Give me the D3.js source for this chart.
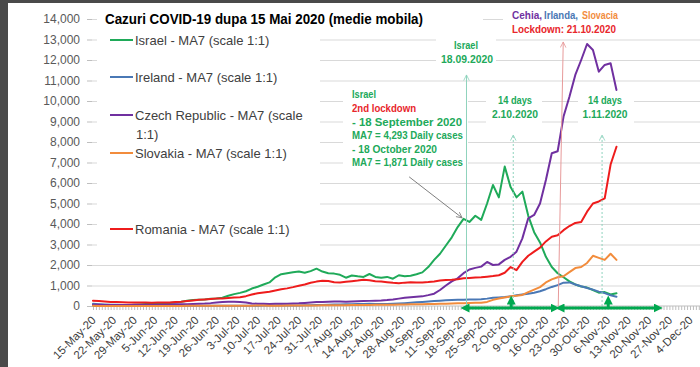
<!DOCTYPE html>
<html>
<head>
<meta charset="utf-8">
<script src="https://cdn.jsdelivr.net/npm/d3@7"></script>
<style>
body { margin: 0; background: #fff; }
svg { display: block; font-family: "Liberation Sans", Arial, sans-serif; }
.grid line { stroke: #d9d9d9; }
.grid path { display: none; }
.axis path { display: none; }
.axis line { stroke: #bfbfbf; }
.axis text { fill: #595959; font-size: 12px; }
.xaxis text { fill: #404040; font-size: 11.5px; }
.series { fill: none; stroke-width: 2; stroke-linejoin: round; stroke-linecap: round; }
.legend text { fill: #404040; font-size: 13px; }
.note { font-weight: bold; font-size: 11px; }
</style>
</head>
<body>
<svg id="chart" width="700" height="367"></svg>
<script>
var WIDTH = 700;
var HEIGHT = 367;

// first day of the data, every value is 2 days apart
var START = new Date(2020, 4, 15);
var STEP = 2;
var AXIS_END = new Date(2020, 11, 4);

// MA7 daily cases (15 May .. 9 Nov 2020)
var israel = [20,18,17,18,25,30,40,55,75,95,
	110,120,135,150,175,210,260,290,310,320,
	350,370,400,500,580,640,720,850,940,1050,
	1150,1400,1550,1600,1650,1680,1620,1700,1820,1680,
	1600,1580,1520,1380,1490,1450,1420,1560,1420,1380,
	1420,1330,1500,1450,1480,1550,1640,1900,2250,2550,
	2950,3350,3850,4250,4100,4400,4200,5000,5900,5300,
	6800,5800,5300,5580,4400,3600,3100,2400,1900,1600,
	1400,1200,1050,950,900,780,650,680,560,620];

var ireland = [110,90,75,65,55,50,45,40,35,30,
	25,20,18,16,14,12,12,11,11,12,
	12,14,15,15,14,14,15,16,18,20,
	20,22,22,25,28,30,35,40,45,50,
	60,70,75,80,85,95,100,110,100,95,
	100,110,125,140,160,180,200,220,240,260,
	280,290,300,310,320,320,330,360,400,420,
	440,470,520,560,600,650,720,820,930,1020,
	1140,1150,1050,960,880,800,700,630,520,450];

var czech = [60,55,50,48,45,45,50,55,55,60,
	60,65,70,75,80,85,90,100,110,120,
	140,170,200,210,210,200,170,120,110,105,
	100,110,110,115,120,130,150,170,190,200,
	210,220,220,210,220,230,240,250,260,270,
	290,320,360,400,430,450,470,530,600,780,
	1000,1200,1350,1600,1780,1860,1920,2150,2000,2030,
	2250,2400,2650,3300,4280,4440,5000,6150,7450,7550,
	9240,10210,11270,12000,12780,12490,11430,11760,11840,10540];

var slovakia = [8,6,5,5,4,4,3,3,3,4,
	5,6,5,5,5,6,8,10,12,14,
	15,16,14,12,12,14,16,18,20,22,
	15,16,18,20,22,24,26,28,30,32,
	35,38,40,42,45,48,50,52,55,58,
	60,65,70,75,80,85,90,95,100,105,
	110,120,130,140,150,155,160,200,300,370,
	420,470,500,540,680,800,920,1150,1300,1400,
	1450,1650,1850,1900,2100,2450,2350,2250,2550,2250];

var romania = [260,240,220,200,190,180,175,170,165,165,
	160,165,170,175,190,210,240,270,300,320,
	340,360,370,390,410,430,480,560,620,660,
	700,760,820,860,920,990,1050,1130,1190,1230,
	1220,1160,1150,1180,1210,1240,1280,1260,1210,1190,
	1160,1130,1110,1140,1160,1150,1150,1170,1200,1240,
	1270,1280,1300,1350,1370,1390,1400,1430,1460,1500,
	1620,1900,1750,2150,2450,2650,2850,3150,3380,3450,
	3700,3900,4050,4100,4600,5000,5100,5250,6900,7770];

var seriesNames = ["Israel - MA7 (scale 1:1)", "Ireland - MA7 (scale 1:1)",
	"Czech Republic - MA7 (scale", "Slovakia - MA7 (scale 1:1)", "Romania - MA7 (scale 1:1)"];
var seriesColors = ["#1faa59", "#4a78b5", "#7030a0", "#f28c3c", "#ee1c1c"];
var seriesData = [israel, ireland, czech, slovakia, romania];

var yTicks = d3.range(0, 14001, 1000);

// annotation anchors, in days after START and case values
var israelArrow = {day: 127, from: 0, to: 11270};
var redArrow = {day0: 158.2, day1: 159.9, from: 0, to: 12880};
var dottedArrows = [{day: 142.9, to: 8340}, {day: 173.1, to: 8340}];
var grayArrow = {day0: 107.5, v0: 6300, day1: 125.5, v1: 4300};
var spans = [[126.5, 157.1], [158.8, 192.2]];
var upArrows = [142.2, 175.2];

var svg = d3.select("#chart");

var x = d3.scaleTime().domain([START, AXIS_END]).range([93, 690]);
var y = d3.scaleLinear().domain([0, 14000]).range([306, 19]);

function dayToDate(d)
{
	return new Date(START.getTime() + d * 86400000);
}

// frame
svg.append("rect").attr("x", 0).attr("y", 0).attr("width", WIDTH).attr("height", 3).attr("fill", "#4a4a4a");
svg.append("rect").attr("x", 0).attr("y", 0).attr("width", 8).attr("height", HEIGHT).attr("fill", "#4a4a4a");

// gridlines
svg.append("g")
	.attr("class", "grid")
	.attr("transform", "translate(92,0)")
	.call(d3.axisLeft(y).tickValues(yTicks.slice(1)).tickSize(-(WIDTH - 92)).tickFormat(""));

// white boxes under title, legend and notes
var boxes = [[97, 5, 386, 24], [97, 28, 223, 224], [503, 4, 197, 32], [436, 36, 60, 34],
	[343, 86, 125, 84], [486, 90, 56, 34], [578, 90, 56, 34]];
svg.selectAll("rect.box").data(boxes).enter().append("rect")
	.attr("class", "box")
	.attr("x", function(d){return d[0];})
	.attr("y", function(d){return d[1];})
	.attr("width", function(d){return d[2];})
	.attr("height", function(d){return d[3];})
	.attr("fill", "#fff");

// y axis
svg.append("g")
	.attr("class", "axis")
	.attr("transform", "translate(92,0)")
	.call(d3.axisLeft(y).tickValues(yTicks).tickSize(5).tickPadding(7).tickFormat(d3.format(",")));

// x axis line and daily ticks
svg.append("line").attr("x1", 92).attr("x2", WIDTH).attr("y1", 306).attr("y2", 306).attr("stroke", "#bfbfbf");
svg.append("g")
	.attr("class", "axis")
	.attr("transform", "translate(0,306)")
	.call(d3.axisBottom(x).tickValues(d3.timeDay.range(START, x.invert(WIDTH))).tickSize(4).tickFormat(""));

var xAxis = svg.append("g")
	.attr("class", "axis xaxis")
	.attr("transform", "translate(0,306)")
	.call(d3.axisBottom(x).tickValues(d3.timeDay.range(START, d3.timeDay.offset(AXIS_END, 1), 7))
		.tickSize(0).tickFormat(d3.timeFormat("%-d-%b-%y")));
xAxis.selectAll("text")
	.attr("x", 0).attr("y", 0).attr("dy", 0)
	.attr("text-anchor", "end")
	.attr("transform", "translate(3,15) rotate(-45)");

// series
var line = d3.line()
	.x(function(d, i){return x(dayToDate(i * STEP));})
	.y(function(d){return y(d);});

seriesData.forEach(function(s, i)
{
	svg.append("path")
		.datum(s)
		.attr("class", "series")
		.attr("stroke", seriesColors[i])
		.attr("d", line);
});

// legend
var legendY = [40, 77, 115, 153, 229];
var legend = svg.append("g").attr("class", "legend");
for (var i = 0; i < seriesNames.length; i++)
{
	legend.append("line")
		.attr("x1", 110).attr("x2", 133)
		.attr("y1", legendY[i]).attr("y2", legendY[i])
		.attr("stroke", seriesColors[i]).attr("stroke-width", 2);
	legend.append("text")
		.attr("x", 135).attr("y", legendY[i]).attr("dy", "0.35em")
		.text(seriesNames[i]);
}
legend.append("text").attr("x", 136).attr("y", 134).attr("dy", "0.35em").text("1:1)");

// title
svg.append("text")
	.attr("x", 105).attr("y", 24)
	.attr("font-weight", "bold").attr("font-size", "15px").attr("fill", "#000")
	.attr("textLength", 318).attr("lengthAdjust", "spacingAndGlyphs")
	.text("Cazuri COVID-19 dupa 15 Mai 2020 (medie mobila)");

// arrow markers
var defs = svg.append("defs");
function openHead(id, color)
{
	defs.append("marker")
		.attr("id", id).attr("viewBox", "0 0 10 10")
		.attr("refX", 9).attr("refY", 5)
		.attr("markerWidth", 7).attr("markerHeight", 7)
		.attr("markerUnits", "userSpaceOnUse")
		.attr("orient", "auto-start-reverse")
		.append("path").attr("d", "M1,1 L9,5 L1,9")
		.attr("fill", "none").attr("stroke", color).attr("stroke-width", 1.2);
}
openHead("headTeal", "#8fd3bd");
openHead("headRed", "#e79a9a");
openHead("headGray", "#7f7f7f");
defs.append("marker")
	.attr("id", "headGreen").attr("viewBox", "0 0 10 10")
	.attr("refX", 5).attr("refY", 5)
	.attr("markerWidth", 9).attr("markerHeight", 9)
	.attr("markerUnits", "userSpaceOnUse")
	.attr("orient", "auto-start-reverse")
	.append("path").attr("d", "M0,0 L10,5 L0,10 z").attr("fill", "#00a84f");

// Israel lockdown arrow
svg.append("line")
	.attr("x1", x(dayToDate(israelArrow.day))).attr("x2", x(dayToDate(israelArrow.day)))
	.attr("y1", y(israelArrow.from)).attr("y2", y(israelArrow.to))
	.attr("stroke", "#8fd3bd").attr("stroke-width", 1)
	.attr("marker-end", "url(#headTeal)");

// 14 days dotted arrows
dottedArrows.forEach(function(a)
{
	svg.append("line")
		.attr("x1", x(dayToDate(a.day))).attr("x2", x(dayToDate(a.day)))
		.attr("y1", y(0)).attr("y2", y(a.to))
		.attr("stroke", "#8fd3bd").attr("stroke-width", 1)
		.attr("stroke-dasharray", "2,2")
		.attr("marker-end", "url(#headTeal)");
});

// lockdown 21.10 arrow
svg.append("line")
	.attr("x1", x(dayToDate(redArrow.day0))).attr("x2", x(dayToDate(redArrow.day1)))
	.attr("y1", y(redArrow.from)).attr("y2", y(redArrow.to))
	.attr("stroke", "#e79a9a").attr("stroke-width", 1)
	.attr("marker-end", "url(#headRed)");

// gray pointer
svg.append("line")
	.attr("x1", x(dayToDate(grayArrow.day0))).attr("y1", y(grayArrow.v0))
	.attr("x2", x(dayToDate(grayArrow.day1))).attr("y2", y(grayArrow.v1))
	.attr("stroke", "#7f7f7f").attr("stroke-width", 1)
	.attr("marker-end", "url(#headGray)");

// green period arrows on the axis
spans.forEach(function(s)
{
	svg.append("line")
		.attr("x1", x(dayToDate(s[0]))).attr("x2", x(dayToDate(s[1])))
		.attr("y1", 308).attr("y2", 308)
		.attr("stroke", "#00a84f").attr("stroke-width", 3)
		.attr("marker-start", "url(#headGreen)")
		.attr("marker-end", "url(#headGreen)");
});
upArrows.forEach(function(d)
{
	svg.append("line")
		.attr("x1", x(dayToDate(d))).attr("x2", x(dayToDate(d)))
		.attr("y1", 308).attr("y2", 300)
		.attr("stroke", "#00a84f").attr("stroke-width", 3)
		.attr("marker-end", "url(#headGreen)");
});

// notes
var GREEN = "#21a95a", RED = "#e8262b";
var notes = [
	["Cehia,", 512, 19, 30, "#7030a0", "start"],
	["Irlanda,", 544, 19, 34, "#4a78b5", "start"],
	["Slovacia", 582, 19, 36, "#f28c3c", "start"],
	["Lockdown: 21.10.2020", 512, 33, 104, RED, "start"],
	["Israel", 466, 49, 24, GREEN, "middle"],
	["18.09.2020", 467, 63, 52, GREEN, "middle"],
	["Israel", 352, 98, 24, GREEN, "start"],
	["2nd lockdown", 352, 112, 64, RED, "start"],
	["- 18 September 2020", 352, 126, 110, GREEN, "start"],
	["MA7 = 4,293 Daily cases", 352, 139, 111, GREEN, "start"],
	["- 18 October 2020", 352, 153, 85, GREEN, "start"],
	["MA7 = 1,871 Daily cases", 352, 166, 111, GREEN, "start"],
	["14 days", 515, 104, 34, GREEN, "middle"],
	["2.10.2020", 515, 118, 46, GREEN, "middle"],
	["14 days", 605, 104, 34, GREEN, "middle"],
	["1.11.2020", 605, 118, 45, GREEN, "middle"]
];
svg.selectAll("text.note").data(notes).enter().append("text")
	.attr("class", "note")
	.attr("x", function(d){return d[1];})
	.attr("y", function(d){return d[2];})
	.attr("textLength", function(d){return d[3];})
	.attr("lengthAdjust", "spacingAndGlyphs")
	.attr("fill", function(d){return d[4];})
	.attr("text-anchor", function(d){return d[5];})
	.text(function(d){return d[0];});
</script>
</body>
</html>
